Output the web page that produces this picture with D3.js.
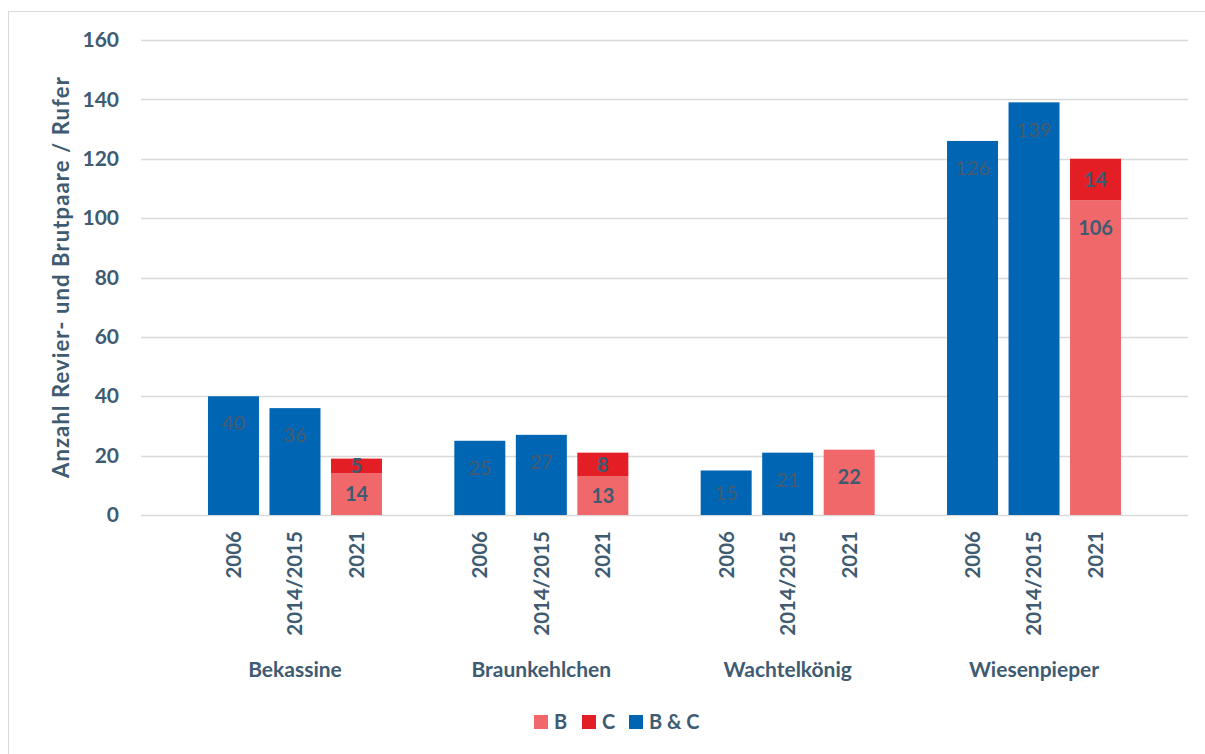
<!DOCTYPE html>
<html>
<head>
<meta charset="utf-8">
<script src="https://cdn.jsdelivr.net/npm/d3@7"></script>
<style>
  html, body { margin: 0; padding: 0; background: #fff; }
  svg { display: block; font-family: Lato, "Open Sans", sans-serif; }
</style>
</head>
<body>
<svg id="chart" width="1205" height="754"></svg>
<script>
// ---- data ----
const groups = ["Bekassine", "Braunkehlchen", "Wachtelkönig", "Wiesenpieper"];
const periods = ["2006", "2014/2015", "2021"];
const seriesNames = ["B", "C", "B & C"];
// one entry per group × period (group-major order)
const bValues  = [0, 0, 14,   0, 0, 13,   0, 0, 22,   0, 0, 106];
const cValues  = [0, 0, 5,    0, 0, 8,    0, 0, 0,    0, 0, 14];
const bcValues = [40, 36, 0,  25, 27, 0,  15, 21, 0,  126, 139, 0];
const yTicks = [0, 20, 40, 60, 80, 100, 120, 140, 160];
const yTitle = "Anzahl Revier- und Brutpaare / Rufer";

// ---- styles ----
const colors = { "B": "#f0686a", "C": "#e31e24", "B & C": "#0066b3" };
const textColor = "#3e5b72";

const svg = d3.select("#chart");

// outer border
svg.append("rect")
  .attr("x", 8.5).attr("y", 11.5)
  .attr("width", 1250).attr("height", 800)
  .attr("fill", "none").attr("stroke", "#d9d9d9").attr("stroke-width", 1);

const plotLeft = 141, plotRight = 1188;
const y = d3.scaleLinear().domain([0, 160]).range([515, 40]);
const xGroup = d3.scaleBand().domain(groups).range([171.8, 1157.2]).padding(0);
const xInner = d3.scaleBand().domain(periods).range([0, xGroup.bandwidth()])
  .paddingInner(0.171).paddingOuter(0.588);

// gridlines
svg.append("g").selectAll("line").data(yTicks).join("line")
  .attr("x1", plotLeft).attr("x2", plotRight)
  .attr("y1", d => Math.round(y(d)) + 0.5).attr("y2", d => Math.round(y(d)) + 0.5)
  .attr("stroke", "#d9d9d9").attr("stroke-width", 1.5);

// y axis labels
const yAxis = d3.axisLeft(y).tickValues(yTicks).tickSize(0).tickPadding(22);
const gy = svg.append("g").attr("transform", `translate(${plotLeft},0)`).call(yAxis);
gy.select(".domain").remove();
gy.selectAll("text")
  .attr("fill", textColor).style("font-size", "21px").style("font-weight", "bold")
  .style("font-family", "Lato, sans-serif");

// rows
const rows = [];
groups.forEach((g, gi) => periods.forEach((p, pi) => {
  const i = gi * periods.length + pi;
  rows.push({ group: g, period: p, "B": bValues[i], "C": cValues[i], "B & C": bcValues[i] });
}));

const stack = d3.stack().keys(["B", "C"]);
const stacked = stack(rows);
const segs = [];
stacked.forEach(s => s.forEach(d => {
  if (d[1] - d[0] > 0) segs.push({ key: s.key, y0: d[0], y1: d[1], v: d[1] - d[0], row: d.data });
}));
rows.forEach(r => {
  if (r["B & C"] > 0) segs.push({ key: "B & C", y0: 0, y1: r["B & C"], v: r["B & C"], row: r });
});

const bx = d => xGroup(d.row.group) + xInner(d.row.period);

svg.append("g").selectAll("rect").data(segs).join("rect")
  .attr("x", bx)
  .attr("y", d => y(d.y1))
  .attr("width", xInner.bandwidth())
  .attr("height", d => y(d.y0) - y(d.y1))
  .attr("fill", d => colors[d.key]);

// value labels
svg.append("g").selectAll("text").data(segs).join("text")
  .attr("x", d => bx(d) + xInner.bandwidth() / 2)
  .attr("y", d => {
    const top = y(d.y1), h = y(d.y0) - y(d.y1);
    return top + Math.min(27, h / 2);
  })
  .attr("dy", "0.36em")
  .attr("text-anchor", "middle")
  .attr("fill", d => d.key === "B & C" ? "#485a6b" : textColor)
  .style("font-size", "20px")
  .style("font-weight", d => d.key === "B & C" ? "normal" : "bold")
  .text(d => d.v);

// period labels (rotated)
svg.append("g").selectAll("text").data(rows).join("text")
  .attr("transform", d => `translate(${xGroup(d.group) + xInner(d.period) + xInner.bandwidth() / 2},531) rotate(-90)`)
  .attr("text-anchor", "end")
  .attr("dy", "0.36em")
  .attr("fill", textColor)
  .style("font-size", "20.5px").style("font-weight", "bold")
  .text(d => d.period);

// group labels
svg.append("g").selectAll("text").data(groups).join("text")
  .attr("x", d => xGroup(d) + xGroup.bandwidth() / 2)
  .attr("y", 677)
  .attr("text-anchor", "middle")
  .attr("fill", textColor)
  .style("font-size", "21px").style("font-weight", "bold")
  .text(d => d);

// y axis title
svg.append("text")
  .attr("transform", "translate(61,277) rotate(-90)")
  .attr("text-anchor", "middle")
  .attr("dy", "0.36em")
  .attr("fill", textColor)
  .style("font-size", "22px").style("font-weight", "bold")
  .style("letter-spacing", "1.1px")
  .text(yTitle);

// legend
const legendX = [534, 582, 629];
const lg = svg.append("g").selectAll("g").data(seriesNames).join("g")
  .attr("transform", (d, i) => `translate(${legendX[i]},715)`);
lg.append("rect").attr("width", 14).attr("height", 14).attr("fill", d => colors[d]);
lg.append("text").attr("x", 20).attr("y", 14)
  .attr("fill", textColor)
  .style("font-size", "20px").style("font-weight", "bold")
  .text(d => d);
</script>
</body>
</html>
